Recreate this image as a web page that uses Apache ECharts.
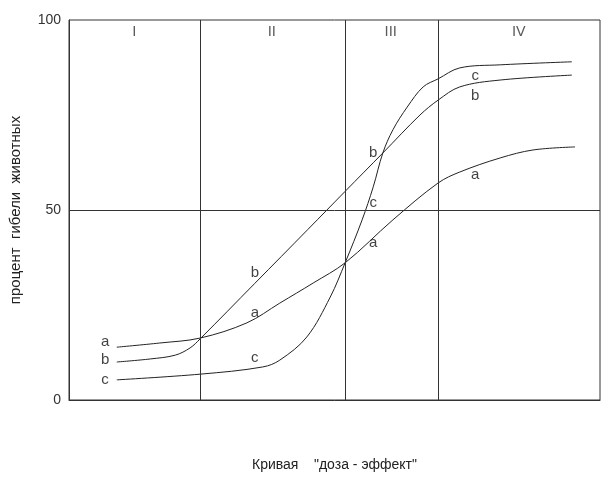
<!DOCTYPE html>
<html>
<head>
<meta charset="utf-8">
<script src="https://cdn.jsdelivr.net/npm/echarts@6/dist/echarts.min.js"></script>
<style>html,body{margin:0;padding:0;background:#fff}#c{width:616px;height:482px}</style>
</head>
<body>
<div id="c"></div>
<script>
// Curve data [dose, % lethality]
const curveA = [[9.0,13.9],[17.1,15.0],[24.7,16.3],[33.5,20.3],[39.7,25.5],[46.0,30.8],[52.0,36.1],[61.0,47.4],[69.5,57.1],[73.6,60.0],[81.2,63.7],[87.4,65.8],[95.3,66.6]];
const curveB = [[9.0,10.0],[15.3,10.8],[20.0,11.8],[22.8,13.7],[24.7,16.1],[35.0,30.7],[45.0,44.9],[52.0,54.9],[59.1,65.0],[66.1,75.0],[69.5,78.9],[73.6,82.4],[81.2,84.2],[94.7,85.5]];
const curveC = [[9.0,5.3],[24.7,6.8],[36.5,8.7],[39.7,10.5],[44.8,16.6],[49.2,27.1],[52.0,36.1],[55.2,47.4],[57.3,56.1],[59.1,65.0],[61.0,71.1],[63.7,77.1],[66.7,82.4],[69.5,84.5],[73.6,87.4],[81.2,88.2],[94.7,89.0]];
// curve letter labels [x, y, text]
const curveLabels = [[6.8,15.3,'a'],[6.8,10.5,'b'],[6.8,5.3,'c'],[35.0,33.4,'b'],[35.0,22.9,'a'],[35.0,11.1,'c'],[57.3,65.0,'b'],[57.3,51.8,'c'],[57.3,41.3,'a'],[76.5,85.3,'c'],[76.5,80.0,'b'],[76.5,59.2,'a']];
// zone labels
const zoneLabels = [[12.3,96.8,'I'],[38.2,96.8,'II'],[60.6,96.8,'III'],[84.7,96.8,'IV']];
const zoneBounds = [24.7, 52.0, 69.5];
const yTicks = [0, 50, 100];

const chart = echarts.init(document.getElementById('c'));
const lineStyle = {color:'#222', width:1};
function curve(d){return {type:'line', data:d, smooth:0.35, showSymbol:false, symbol:'none', lineStyle:lineStyle, silent:true};}
chart.setOption({
  animation:false,
  grid:{left:69, right:16, top:20, bottom:82, show:true, borderColor:'#333', borderWidth:1},
  xAxis:{type:'value', min:0, max:100, axisLabel:{show:false}, axisTick:{show:false}, splitLine:{show:false},
    axisLine:{lineStyle:{color:'#333'}},
    name:'Кривая    "доза - эффект"', nameLocation:'middle', nameGap:58,
    nameTextStyle:{fontFamily:'Liberation Sans', fontSize:14, color:'#222'}},
  yAxis:{type:'value', min:0, max:100, interval:50, axisTick:{show:false}, splitLine:{show:false},
    axisLine:{show:true, lineStyle:{color:'#333'}},
    axisLabel:{fontFamily:'Liberation Sans', fontSize:14, color:'#333', margin:8, formatter:v=>yTicks.includes(v)?String(v):''},
    name:'процент  гибели  животных', nameLocation:'middle', nameGap:46,
    nameTextStyle:{fontFamily:'Liberation Sans', fontSize:15, color:'#222'}},
  series:[
    Object.assign(curve(curveA), {markLine:{silent:true, symbol:'none', label:{show:false}, lineStyle:{color:'#333', width:1, type:'solid'},
      data:zoneBounds.map(v=>({xAxis:v})).concat([{yAxis:50}])}}),
    curve(curveB),
    curve(curveC),
    {type:'scatter', data:curveLabels, symbolSize:0, silent:true,
      label:{show:true, position:'inside', formatter:p=>p.data[2], fontFamily:'Liberation Sans', fontSize:15, color:'#111'}},
    {type:'scatter', data:zoneLabels, symbolSize:0, silent:true,
      label:{show:true, position:'inside', formatter:p=>p.data[2], fontFamily:'DejaVu Sans', fontSize:14, color:'#333'}}
  ]
});
</script>
</body>
</html>
